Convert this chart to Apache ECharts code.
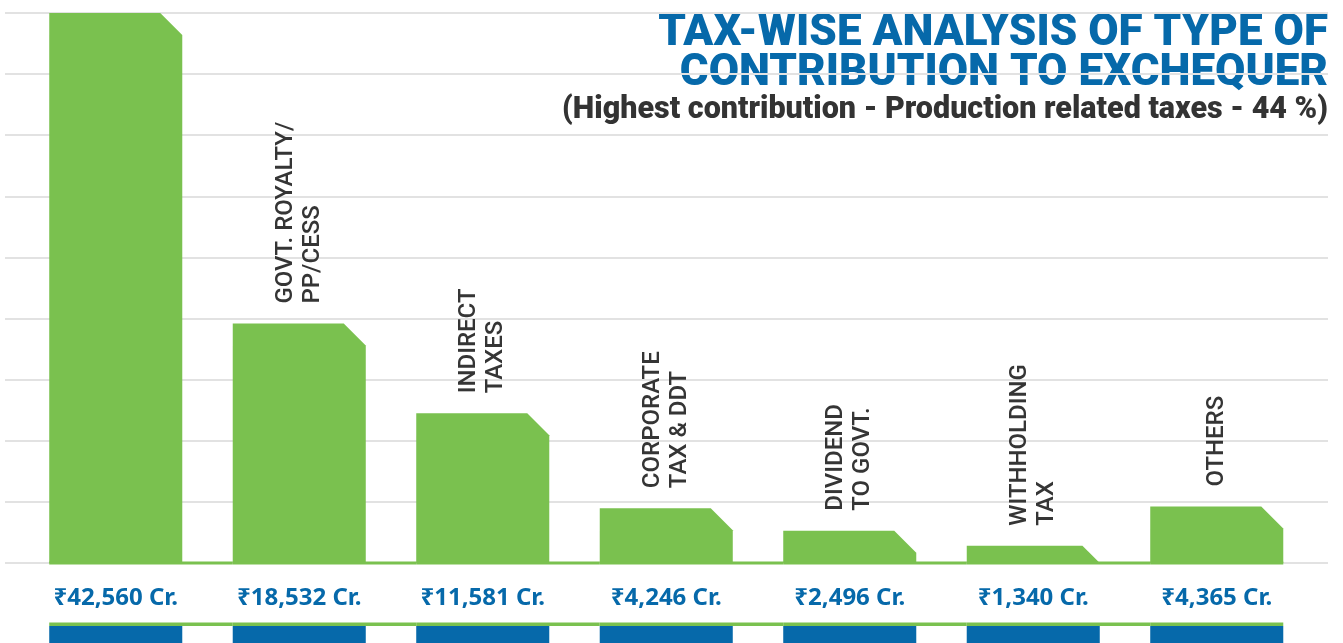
<!DOCTYPE html>
<html>
<head>
<meta charset="utf-8">
<title>Tax-wise analysis</title>
<script src="https://cdn.jsdelivr.net/npm/echarts@6/dist/echarts.min.js"></script>
<style>
  html, body { margin: 0; padding: 0; background: #fff; }
  #chart { width: 1343px; height: 643px; }
</style>
</head>
<body>
<div id="chart"></div>
<script>
// data (₹ crore)
const categories = ['', 'GOVT. ROYALTY/\nPP/CESS', 'INDIRECT\nTAXES', 'CORPORATE\nTAX & DDT', 'DIVIDEND\nTO GOVT.', 'WITHHOLDING\nTAX', 'OTHERS'];
const values = [42560, 18532, 11581, 4246, 2496, 1340, 4365];
const gridSteps = 9;
const titleLines = ['TAX-WISE ANALYSIS OF TYPE OF', 'CONTRIBUTION TO EXCHEQUER'];
const subtitle = '(Highest contribution - Production related taxes - 44 %)';

const green = '#7ac14f';
const blue = '#0669aa';
const chart = echarts.init(document.getElementById('chart'));

// chamfered bar + baseline strip + value label + bottom band
function renderBar(params, api) {
    const i = params.dataIndex;
    const base = api.coord([i, 0]);
    const top = api.coord([i, api.value(1)]);
    const band = api.size([1, 0])[0];
    const w = band * 0.725;
    const x0 = base[0] - w / 2;
    const x1 = base[0] + w / 2;
    const cut = Math.min(22, base[1] - top[1]);
    const stripW = i === values.length - 1 ? w : band;
    return {
        type: 'group',
        children: [
            {
                type: 'polygon',
                shape: { points: [[x0, base[1]], [x0, top[1]], [x1 - cut, top[1]], [x1, top[1] + cut], [x1, base[1]]] },
                style: { fill: green }
            },
            { type: 'rect', shape: { x: x0, y: base[1] - 1.5, width: stripW, height: 3 }, style: { fill: green } },
            {
                type: 'text',
                x: base[0],
                y: base[1] + 35,
                style: {
                    text: '₹' + values[i].toLocaleString('en-US') + ' Cr.',
                    align: 'center',
                    verticalAlign: 'middle',
                    fontSize: 24,
                    fontWeight: 'bold',
                    fontFamily: 'Noto Sans',
                    fill: blue
                }
            },
            { type: 'rect', shape: { x: x0, y: base[1] + 59.5, width: stripW, height: 3.5 }, style: { fill: green } },
            { type: 'rect', shape: { x: x0, y: base[1] + 63, width: w, height: 30 }, style: { fill: blue } },
            {
                type: 'text',
                x: base[0],
                y: top[1] - 20,
                rotation: Math.PI / 2,
                style: {
                    text: categories[i],
                    align: 'left',
                    verticalAlign: 'middle',
                    fontSize: 24,
                    lineHeight: 27,
                    fontWeight: 500,
                    fontFamily: 'Roboto',
                    fill: '#353535'
                }
            }
        ]
    };
}

const titleStyle = {
    fill: blue,
    fontSize: 44,
    lineHeight: 39,
    fontWeight: 900,
    fontFamily: 'Roboto'
};

const option = {
    animation: false,
    graphic: [
        { type: 'text', right: 15, top: 12, style: Object.assign({ text: titleLines[0], align: 'right' }, titleStyle) },
        { type: 'text', right: 15, top: 52, style: Object.assign({ text: titleLines[1], align: 'right' }, titleStyle) },
        {
            type: 'text',
            right: 15,
            top: 95,
            style: {
                text: subtitle,
                align: 'right',
                fill: '#333',
                fontSize: 30.5,
                lineHeight: 30,
                fontWeight: 900,
                fontFamily: 'Roboto'
            }
        }
    ],
    grid: [
        { left: 24, right: 34.5, top: 13, bottom: 80 },
        { left: 5, right: 15, top: 13, bottom: 80 }
    ],
    xAxis: [
        { type: 'category', gridIndex: 0, data: categories, show: false },
        { type: 'value', gridIndex: 1, min: 0, max: 1, show: false }
    ],
    yAxis: [
        { type: 'value', gridIndex: 0, min: 0, max: 'dataMax', show: false },
        {
            type: 'value',
            gridIndex: 1,
            min: 0,
            max: gridSteps,
            interval: 1,
            axisLine: { show: false },
            axisTick: { show: false },
            axisLabel: { show: false },
            splitLine: { lineStyle: { color: '#e2e2e2', width: 2 } }
        }
    ],
    series: [
        {
            type: 'custom',
            xAxisIndex: 0,
            yAxisIndex: 0,
            renderItem: renderBar,
            data: values.map((v, i) => [i, v]),
            z: 3
        }
    ]
};

chart.setOption(option);
</script>
</body>
</html>
